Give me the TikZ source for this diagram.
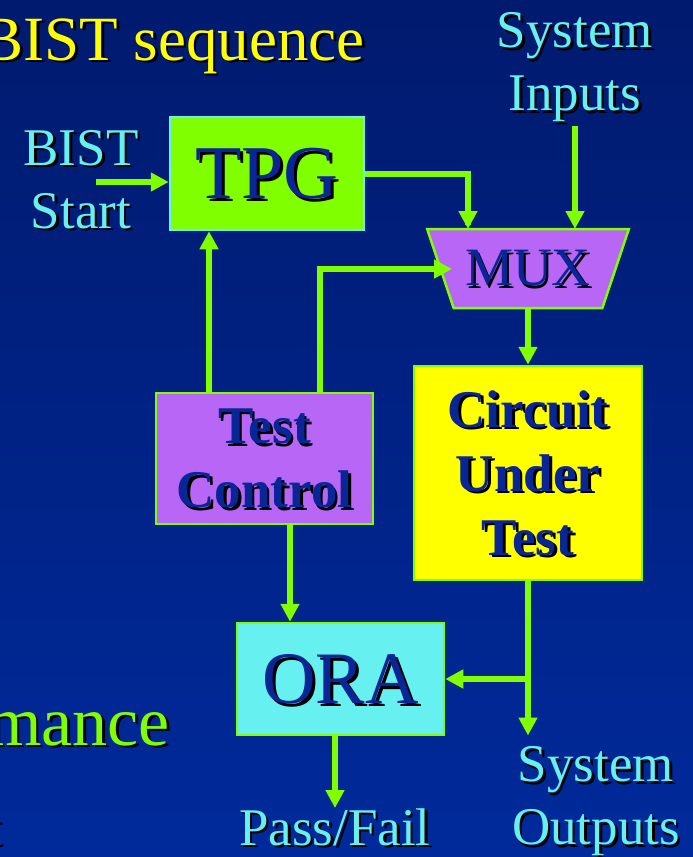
\documentclass[tikz,border=0pt]{standalone}
\usepackage{fontspec}
\setmainfont{Liberation Serif}
\usetikzlibrary{arrows.meta,shapes.geometric,calc}
\definecolor{bgtop}{RGB}{0,26,110}
\definecolor{bgbot}{RGB}{0,42,155}
\definecolor{lgreen}{RGB}{128,255,0}
\definecolor{lcyan}{RGB}{102,240,240}
\definecolor{lpurple}{RGB}{184,102,245}
\definecolor{lyellow}{RGB}{255,255,0}
\definecolor{tblue}{RGB}{8,38,150}
\newcommand{\shd}[1]{\leavevmode\rlap{\kern2.5pt\smash{\raisebox{-2.5pt}{\textcolor{black}{#1}}}}#1}
\newcommand{\shdb}[1]{\leavevmode\rlap{\kern3pt\smash{\raisebox{-3pt}{\textcolor{black}{#1}}}}#1}
\begin{document}
\begin{tikzpicture}[x=1pt,y=-1pt,
  blockbox/.style={draw=lgreen,line width=2.5pt,inner sep=0pt,text=tblue,align=center},
  lbl/.style={text=lcyan,inner sep=0pt,align=center,font=\fontsize{53}{63}\selectfont},
  arr/.style={draw=lgreen,line width=6pt,-{Triangle[length=18pt,width=18pt]}},
  ]
\shade[top color=bgtop,bottom color=bgbot] (0,0) rectangle (693,857);
\useasboundingbox (0,0) rectangle (693,857);
\clip (0,0) rectangle (693,857);

% fragments of slide text
\node[anchor=base east,inner sep=0pt,text=lyellow,font=\fontsize{63}{70}\selectfont] (title) at (365,60) {\shd{BIST sequence}};
\node[anchor=base east,inner sep=0pt,text=lgreen,font=\fontsize{70}{76}\selectfont] (mance) at (170,745) {\shd{mance}};
\node[anchor=base east,inner sep=0pt,text=tblue,font=\fontsize{53}{63}\selectfont] (tfrag) at (1.5,845) {\shd{t}};

% blocks
\node[blockbox,draw=lcyan,fill=lgreen,minimum width=194pt,minimum height=113pt,
  font=\fontsize{76}{80}\selectfont] (tpg) at (267,173.5) {\shdb{TPG}};
\node[blockbox,trapezium,trapezium stretches=true,shape border rotate=180,
  trapezium left angle=58,trapezium right angle=58,
  minimum width=202pt,minimum height=79pt,fill=lpurple,
  font=\fontsize{54}{60}\selectfont] (mux) at (528,268.5) {\shd{MUX}};
\node[blockbox,fill=lpurple,minimum width=217pt,minimum height=131pt,
  font=\bfseries\fontsize{53}{64}\selectfont] (tc) at (264.5,458.5) {\shd{Test}\\\shd{Control}};
\node[blockbox,fill=lyellow,minimum width=228pt,minimum height=214pt,
  font=\bfseries\fontsize{53}{64}\selectfont] (cut) at (528,473) {\shd{Circuit}\\\shd{Under}\\\shd{Test}};
\node[blockbox,fill=lcyan,minimum width=207pt,minimum height=112pt,
  font=\fontsize{74}{80}\selectfont] (ora) at (340.5,679) {\shdb{ORA}};

% labels
\node[lbl,anchor=north] (bist) at (81,130) {\shd{BIST}\\\shd{Start}};
\node[lbl,anchor=north] (sysin) at (575,12.5) {\shd{System}\\\shd{Inputs}};
\node[lbl,anchor=north] (sysout) at (596,746.5) {\shd{System}\\\shd{Outputs}};
\node[lbl,anchor=base] (pf) at (335,845) {\shd{Pass/Fail}};
\coordinate (bistend) at (96,182);

% connectors
\draw[arr] (bistend) -- (bistend -| tpg.west);
\draw[arr,shorten <=4pt] (sysin.south) -- ($(mux.center)+(47,-39.5)$);
\draw[arr,-] ([yshift=-0.5pt]tpg.east) -| ($(mux.center)+(-60,-44)$);
\draw[arr] ($(mux.center)+(-60,-48)$) -- ($(mux.center)+(-60,-39.5)$);
\draw[arr] ([xshift=-55.5pt]tc.north) -- ([xshift=-55.5pt]tc.north |- tpg.south);
\draw[arr] ([xshift=55.5pt]tc.north) |- ($(mux.center)+(-76,0.5)$);
\draw[arr] ($(mux.center)+(0,39.5)$) -- (cut.north);
\draw[arr] ([xshift=25.5pt]tc.south) -- ([xshift=25.5pt]tc.south |- ora.north);
\draw[arr,shorten >=11pt] (cut.south) -- (cut.south |- sysout.north);
\draw[arr] (cut.south |- ora.east) -- (ora.east);
\draw[arr] (ora.south -| pf.north) -- (pf.north);
\end{tikzpicture}
\end{document}
